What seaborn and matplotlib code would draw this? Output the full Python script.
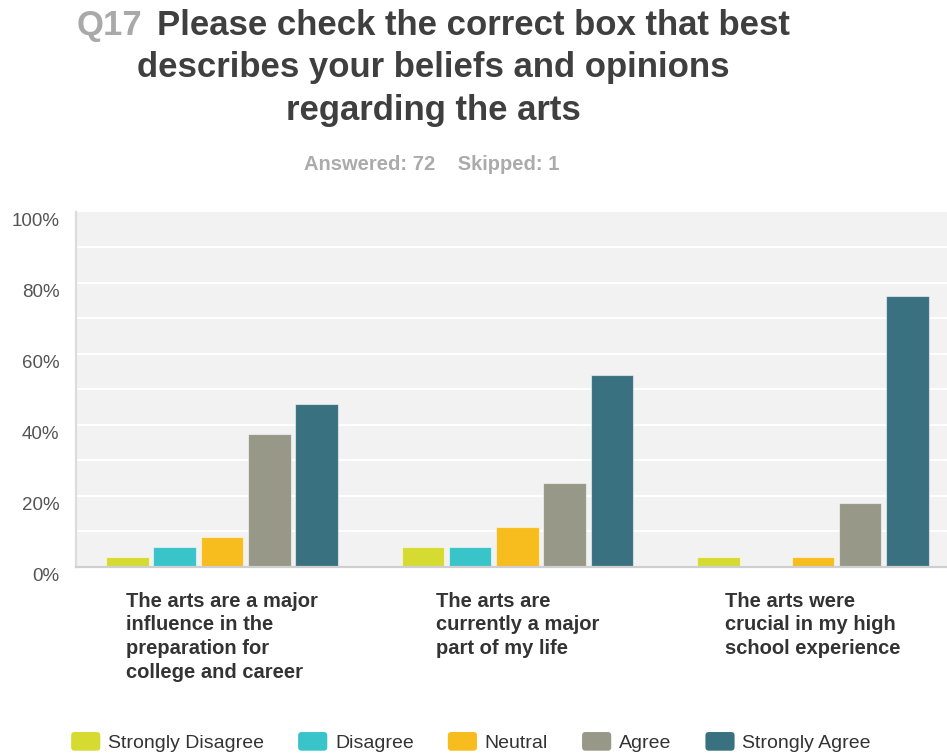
import matplotlib
matplotlib.use("Agg")
import matplotlib.pyplot as plt
from matplotlib.patches import FancyBboxPatch, Patch
from matplotlib.legend_handler import HandlerPatch
from matplotlib.transforms import ScaledTranslation
import seaborn as sns
import pandas as pd

# Survey results (% of 72 respondents)
statements = [
    "The arts are a major\ninfluence in the\npreparation for\ncollege and career",
    "The arts are\ncurrently a major\npart of my life",
    "The arts were\ncrucial in my high\nschool experience",
]
responses = ["Strongly Disagree", "Disagree", "Neutral", "Agree", "Strongly Agree"]
strongly_disagree = [2.78, 5.56, 2.78]
disagree = [5.56, 5.56, 0.00]
neutral = [8.33, 11.11, 2.78]
agree = [37.50, 23.61, 18.06]
strongly_agree = [45.83, 54.17, 76.39]
y_ticks = [0, 20, 40, 60, 80, 100]
y_tick_labels = ["0%", "20%", "40%", "60%", "80%", "100%"]

colors = ["#d6db32", "#38c4c8", "#f7bc1e", "#989888", "#3a7180"]

series = [strongly_disagree, disagree, neutral, agree, strongly_agree]
rows = []
for resp, vals in zip(responses, series):
    for st, v in zip(statements, vals):
        rows.append({"statement": st, "response": resp, "pct": v})
df = pd.DataFrame(rows)

sns.set_style("white")
plt.rcParams["font.family"] = ["Liberation Sans", "DejaVu Sans"]

W, H = 947, 753
fig = plt.figure(figsize=(W / 100, H / 100), dpi=100)
ax = fig.add_axes([76 / W, 1 - 566.7 / H, 1 - 76 / W, (566.7 - 212) / H])
ax.set_facecolor("#f2f2f2")

sns.barplot(
    data=df, x="statement", y="pct", hue="response",
    order=statements, hue_order=responses, palette=colors, saturation=1,
    width=0.8, gap=0.1, edgecolor=(1, 1, 1, 0.55), linewidth=0.8,
    legend=False, ax=ax, zorder=3,
)

ax.set_ylim(0, 100)
ax.set_xlim(-0.494, 2.454)
ax.set_xlabel("")
ax.set_ylabel("")

# light gridlines every 10%, labels every 20%
for gy in range(10, 100, 10):
    ax.axhline(gy, color="white", lw=1.5, zorder=1)
ax.set_yticks(y_ticks)
ax.set_yticklabels(y_tick_labels, fontsize=13.5, color="#555555")
ax.tick_params(axis="y", length=0, pad=12)
offset = ScaledTranslation(0, -8 / 100, fig.dpi_scale_trans)
for lbl in ax.get_yticklabels():
    lbl.set_transform(lbl.get_transform() + offset)

ax.tick_params(axis="x", length=0, pad=18)
for lbl in ax.get_xticklabels():
    lbl.set_fontsize(14.5)
    lbl.set_fontweight("bold")
    lbl.set_color("#333333")
    lbl.set_multialignment("left")
    lbl.set_linespacing(1.32)

for side in ["top", "right"]:
    ax.spines[side].set_visible(False)
ax.spines["left"].set_color("#dcdcdc")
ax.spines["left"].set_linewidth(1.6)
ax.spines["bottom"].set_color("#cfcfcf")
ax.spines["bottom"].set_linewidth(1.6)
ax.spines["bottom"].set_zorder(4)

# Title with grey question number
renderer = fig.canvas.get_renderer()
title_kw = dict(fontsize=25, fontweight="bold", va="baseline")
cx = 433
t_q = fig.text(0, 1 - 35 / H, "Q17", color="#a9a9a9", **title_kw)
t_r = fig.text(0, 1 - 35 / H, "Please check the correct box that best", color="#3f3f3f", **title_kw)
wq = t_q.get_window_extent(renderer).width
wr = t_r.get_window_extent(renderer).width
gap = 15
left = cx - (wq + gap + wr) / 2
t_q.set_x(left / W)
t_r.set_x((left + wq + gap) / W)
fig.text(cx / W, 1 - 77 / H, "describes your beliefs and opinions", color="#3f3f3f",
         ha="center", **title_kw)
fig.text(cx / W, 1 - 120 / H, "regarding the arts", color="#3f3f3f",
         ha="center", **title_kw)

fig.text(431.5 / W, 1 - 170.5 / H, "Answered: 72    Skipped: 1", color="#ababab",
         fontsize=14.5, fontweight="bold", ha="center", va="baseline")


class RoundedHandler(HandlerPatch):
    def create_artists(self, legend, orig_handle, xdescent, ydescent,
                       width, height, fontsize, trans):
        r = 2.5
        p = FancyBboxPatch((-xdescent + r, -ydescent + r), width - 2 * r, height - 2 * r,
                           boxstyle=f"round,pad={r}", facecolor=orig_handle.get_facecolor(),
                           edgecolor="none", transform=trans)
        return [p]


handles = [Patch(facecolor=c, label=r) for c, r in zip(colors, responses)]
fig.legend(
    handles=handles, loc="center", bbox_to_anchor=(471 / W, 1 - 742 / H), ncol=5,
    frameon=False, fontsize=14, handlelength=1.5, handleheight=1.1,
    handletextpad=0.4, columnspacing=1.75, borderpad=0,
    handler_map={Patch: RoundedHandler()}, labelcolor="#333333",
)

fig.savefig("out.png", dpi=100)
